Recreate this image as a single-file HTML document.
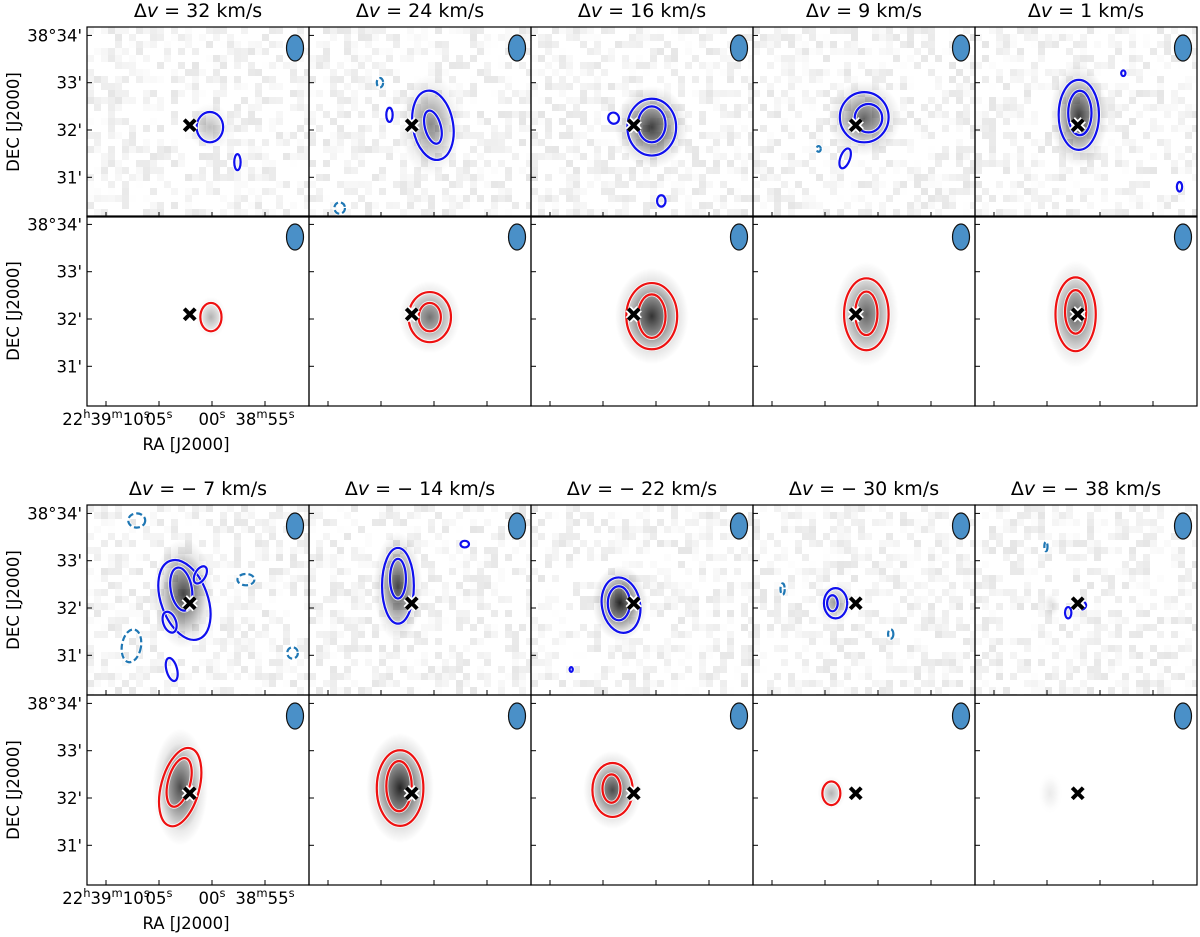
<!DOCTYPE html>
<html><head><meta charset="utf-8">
<style>
html,body{margin:0;padding:0;background:#fff;}
svg{display:block;font-family:"DejaVu Sans","Liberation Sans",sans-serif;}
</style></head>
<body>
<svg id="fig" width="1200" height="937" viewBox="0 0 1200 937" xmlns="http://www.w3.org/2000/svg">
<defs id="defs"></defs>
</svg>
<script>
// ---- data ----
const velocities = [32, 24, 16, 9, 1, -7, -14, -22, -30, -38];
const yTickValues = [2, 1, 0, -1];           // arcmin offset from 38°32'
const yTickLabels = ["38°34'", "33'", "32'", "31'"];
const xTickValues = [10, 5, 0, -5];          // seconds offset from 22h39m00s
const xTickLabels = [["22","h","39","m","10","s"],["05","s"],["00","s"],["38","m","55","s"]];
const crossRa = 2.1, crossDec = 0.1;

// blobs per panel (index = block*10 + row*5 + col)
const blobRa   = [0.2,0.3,0.4,1.3,2.0, 0.1,0.4,0.4,1.1,2.3, 2.7,3.4,3.4,4.0,4.6, 3.0,3.2,4.1,4.4,4.7];
const blobDec  = [0.06,0.1,0.06,0.25,0.3, 0.04,0.04,0.06,0.1,0.1, 0.3,0.45,0.1,0.1,0.05, 0.23,0.21,0.17,0.1,0.1];
const blobWs   = [1.4,2.0,2.4,2.4,1.9, 1.0,2.0,2.4,2.1,1.9, 2.0,1.6,1.8,1.2,0.6, 1.8,2.2,1.9,0.9,0.8];
const blobHd   = [0.35,0.75,0.6,0.55,0.75, 0.3,0.53,0.7,0.76,0.78, 0.8,0.8,0.55,0.3,0.2, 0.85,0.8,0.57,0.25,0.3];
const blobPeak = [0.25,0.45,0.75,0.6,0.75, 0.3,0.55,0.8,0.6,0.6, 0.7,0.7,0.85,0.35,0.12, 0.7,0.85,0.7,0.3,0.08];

// contours
const cPanel = [0,0, 1,1,1,1,1, 2,2,2,2, 3,3,3,3, 4,4,4,4, 5, 6,6, 7,7, 8,8, 9,9,
  10,10,10,10,10,10,10,10,10, 11,11,11, 12,12,12, 13,13,13,13, 14,14,14, 15,15, 16,16, 17,17, 18];
const cRa  = [0.2,-2.4, 0.1,0.1,4.2,8.9,5.1, 0.4,0.4,4.0,-0.5, 1.3,0.9,3.1,5.6, 2.0,1.9,-2.2,-7.5, 0.1, 0.4,0.4, 0.4,0.4, 1.1,1.1, 2.3,2.3,
  2.6,2.9,4.0,3.8,1.1,-3.2,7.6,7.1,-7.6, 3.4,3.4,-2.9, 3.3,3.5,8.0, 4.0,4.3,9.0,-1.2, 3.0,1.7,5.1, 3.0,3.1, 3.2,3.3, 4.1,4.2, 4.4];
const cDec = [0.06,-0.68, 0.1,0.06,0.32,-1.65,1.0, 0.06,0.12,0.25,-1.5, 0.27,0.25,-0.6,-0.4, 0.32,0.36,1.2,-1.2, 0.04, 0.04,0.04, 0.06,0.06, 0.1,0.12, 0.1,0.15,
  0.17,0.4,-0.3,-1.3,0.7,0.6,-0.8,1.85,-0.95, 0.47,0.62,1.35, 0.06,0.1,-1.3, 0.1,0.1,0.4,-0.55, -0.1,0.05,1.3, 0.23,0.33, 0.21,0.25, 0.17,0.2, 0.1];
const cA   = [1.25,0.3, 1.9,0.75,0.3,0.5,0.3, 2.3,1.3,0.5,0.4, 2.3,1.3,0.45,0.2, 1.9,1.1,0.2,0.25, 1.0, 2.0,1.05, 2.4,1.3, 2.1,1.05, 1.9,1.0,
  2.2,1.0,0.6,0.5,0.5,0.8,0.9,0.8,0.5, 1.5,0.75,0.4, 1.8,1.05,0.15, 1.1,0.5,0.2,0.25, 0.3,0.4,0.15, 1.8,1.05, 2.2,1.2, 1.9,0.85, 0.85];
const cB   = [0.32,0.17, 0.74,0.36,0.15,0.12,0.1, 0.6,0.38,0.12,0.12, 0.53,0.3,0.22,0.06, 0.74,0.47,0.06,0.1, 0.3, 0.53,0.3, 0.7,0.46, 0.76,0.46, 0.78,0.46,
  0.88,0.46,0.23,0.25,0.2,0.12,0.35,0.15,0.12, 0.8,0.42,0.07, 0.59,0.36,0.05, 0.32,0.17,0.12,0.1, 0.12,0.08,0.1, 0.85,0.53, 0.8,0.53, 0.57,0.3, 0.25];
const cRot = [0,0, -10,-15,0,0,0, 0,0,-30,0, 0,0,20,0, 0,0,0,0, 0, 0,0, 0,0, 0,0, 0,0,
  -20,-10,-20,-15,30,0,10,0,0, 0,0,0, -10,0,0, 0,0,0,0, 0,-30,0, 15,15, 0,0, 0,0, 0];
const cType= ["p","p", "p","p","p","n","n", "p","p","p","p", "p","p","p","n", "p","p","p","p", "m", "m","m", "m","m", "m","m", "m","m",
  "p","p","p","p","p","n","n","n","n", "p","p","p", "p","p","p", "p","p","n","n", "p","p","n", "m","m", "m","m", "m","m", "m"];

// ---- layout ----
const NS = "http://www.w3.org/2000/svg";
const svg = document.getElementById('fig');
const defs = document.getElementById('defs');
const colLeft = [87, 309, 531, 753, 975];
const rowTop = [27, 216, 505, 695];
const PW = 222, PH = 190;
const SX = 10.6, SY = 47.3;
const FS = 16.5;
function mk(tag, attrs, parent){ const e=document.createElementNS(NS,tag); for(const k in attrs) e.setAttribute(k,attrs[k]); (parent||svg).appendChild(e); return e; }
function px(col, ra){ return colLeft[col] + 125 - ra*SX; }
function py(rowIdx, dec){ return rowTop[rowIdx] + 103 - dec*SY; }
function panelPos(p){ const block=Math.floor(p/10), row=Math.floor((p%10)/5), col=p%5; return {col, rowIdx: block*2+row, obs: row===0}; }

// seeded texture for noise background
let seed = 12345;
function rnd(){ seed = (seed*1103515245 + 12345) & 0x7fffffff; return seed/0x7fffffff; }

const panelGroups = [];
for(let p=0;p<20;p++){
  const {col,rowIdx,obs} = panelPos(p);
  const L=colLeft[col], T=rowTop[rowIdx];
  const cp = mk('clipPath',{id:'clip'+p},defs);
  mk('rect',{x:L,y:T,width:PW,height:PH},cp);
  const g = mk('g',{'clip-path':'url(#clip'+p+')'});
  
  
  panelGroups.push(g);
  mk('rect',{x:L,y:T,width:PW,height:PH,fill:'#fff'},g);
  if(obs){
    const ng = mk('g',{},g);
    
    
    for(let yy=0; yy<PH; yy+=7){
      for(let xx=0; xx<PW; xx+=7){
        const v = rnd();
        if(v>0.5){
          const a = (v-0.5)*0.2;
          mk('rect',{x:L+xx,y:T+yy,width:7,height:7,fill:'#000','fill-opacity':a.toFixed(3)},ng);
        }
      }
    }
  }
  // blob
  const gid='grad'+p;
  const rg = mk('radialGradient',{id:gid,cx:'0.5',cy:'0.5',r:'0.5'},defs);
  const pk = blobPeak[p];
  mk('stop',{offset:'0','stop-color':'#000','stop-opacity':pk},rg);
  mk('stop',{offset:'0.4','stop-color':'#000','stop-opacity':pk*0.55},rg);
  mk('stop',{offset:'0.75','stop-color':'#000','stop-opacity':pk*0.12},rg);
  mk('stop',{offset:'1','stop-color':'#000','stop-opacity':0},rg);
  const bx = px(col,blobRa[p]), by = py(rowIdx,blobDec[p]);
  const blob = mk('ellipse',{cx:bx,cy:by,rx:blobWs[p]*SX*1.45,ry:blobHd[p]*SY*1.45,fill:'url(#'+gid+')'},g);
  
  
}

// contours
for(let i=0;i<cPanel.length;i++){
  const p=cPanel[i]; const {col,rowIdx}=panelPos(p); const g=panelGroups[p];
  const cx=px(col,cRa[i]), cy=py(rowIdx,cDec[i]);
  const rx=cA[i]*SX, ry=cB[i]*SY;
  const tr='rotate('+cRot[i]+' '+cx+' '+cy+')';
  mk('ellipse',{cx,cy,rx,ry,transform:tr,fill:'none',stroke:'#fff','stroke-width':4,'stroke-opacity':0.8},g);
  const col_ = cType[i]==='m'?'#ee1111':(cType[i]==='n'?'#1f77b4':'#1010ee');
  const e = mk('ellipse',{cx,cy,rx,ry,transform:tr,fill:'none',stroke:col_,'stroke-width':2.2},g);
  if(cType[i]==='n') e.setAttribute('stroke-dasharray','6 3');
  
  
}

// beam, cross, frame, ticks
for(let p=0;p<20;p++){
  const {col,rowIdx,obs}=panelPos(p); const g=panelGroups[p];
  const L=colLeft[col], T=rowTop[rowIdx];
  const beam = mk('ellipse',{cx:L+208,cy:T+21,rx:8.5,ry:13,fill:'#4a90c8',stroke:'#111','stroke-width':1.2},g);
  
  
  const cx=px(col,crossRa), cy=py(rowIdx,crossDec);
  const cr = mk('g',{},g);
  
  
  const d='M'+(cx-5.5)+' '+(cy-5.5)+'L'+(cx+5.5)+' '+(cy+5.5)+'M'+(cx+5.5)+' '+(cy-5.5)+'L'+(cx-5.5)+' '+(cy+5.5);
  mk('path',{d,stroke:'#fff','stroke-width':7.5},cr);
  mk('path',{d,stroke:'#000','stroke-width':4},cr);
  const fr = mk('rect',{x:L,y:T,width:PW,height:PH,fill:'none',stroke:'#000','stroke-width':1.2});
  
  
  yTickValues.forEach(v=>{ const y=py(rowIdx,v); mk('line',{x1:L,x2:L+5,y1:y,y2:y,stroke:'#000','stroke-width':1}); });
  xTickValues.forEach(v=>{ const x=px(col,v); mk('line',{x1:x,x2:x,y1:T+PH,y2:T+PH-5,stroke:'#000','stroke-width':1}); });
  if(col===0){
    yTickValues.forEach((v,i)=>{
      const t=mk('text',{x:L-5,y:py(rowIdx,v)+6,'text-anchor':'end','font-size':FS,fill:'#000'});
      t.textContent=yTickLabels[i];
      
      
    });
    const yl=mk('text',{x:0,y:0,transform:'translate(19 '+(T+PH/2)+') rotate(-90)','text-anchor':'middle','font-size':FS,fill:'#000'});
    yl.textContent='DEC [J2000]';
    
    
  }
  if(col===0 && !obs){
    xTickValues.forEach((v,i)=>{
      const t=mk('text',{x:px(col,v),y:T+PH+19,'text-anchor':'middle','font-size':FS,fill:'#000'});
      
      
      const parts=xTickLabels[i];
      for(let k=0;k<parts.length;k++){
        const ts=document.createElementNS(NS,'tspan');
        if(k%2===1){ ts.setAttribute('font-size','11.5'); ts.setAttribute('dy','-7'); }
        else if(k>0){ ts.setAttribute('dy','7'); }
        ts.textContent=parts[k]; t.appendChild(ts);
      }
    });
    const xl=mk('text',{x:L+PW/2-12,y:T+PH+44,'text-anchor':'middle','font-size':FS,fill:'#000'});
    xl.textContent='RA [J2000]';
    
    
  }
  if(obs){
    const vi=Math.floor(p/10)*5+col; const v=velocities[vi];
    const t=mk('text',{x:L+PW/2,y:T-10,'text-anchor':'middle','font-size':19,fill:'#000'});
    
    
    const a=document.createElementNS(NS,'tspan'); a.textContent='Δ'; t.appendChild(a);
    const b=document.createElementNS(NS,'tspan'); b.setAttribute('font-style','italic'); b.textContent='v'; t.appendChild(b);
    const c=document.createElementNS(NS,'tspan'); c.textContent=' = '+(v<0?'− '+(-v):v)+' km/s'; t.appendChild(c);
  }
}
</script>
</body></html>
